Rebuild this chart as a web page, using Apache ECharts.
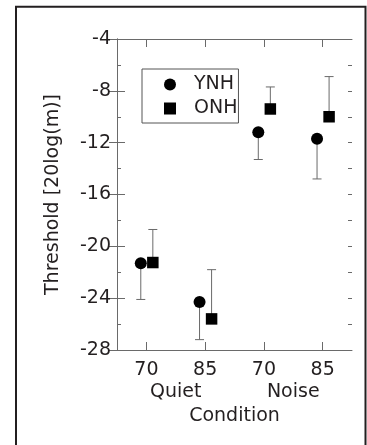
<!DOCTYPE html>
<html>
<head>
<meta charset="utf-8">
<script src="https://cdn.jsdelivr.net/npm/echarts@6/dist/echarts.min.js"></script>
<style>
html,body{margin:0;padding:0;background:#fff;}
#chart{width:367px;height:445px;}
</style>
</head>
<body>
<div id="chart"></div>
<script>
// ---- data ----
var categories = ['70', '85', '70', '85'];
var groups = ['Quiet', 'Noise'];
var seriesNames = ['YNH', 'ONH'];
var ynhMean = [-21.3, -24.3, -11.2, -11.7];
var ynhLower = [-24.1, -27.2, -13.3, -14.8];
var onhMean = [-21.25, -25.6, -9.4, -10.0];
var onhUpper = [-18.7, -21.8, -7.7, -6.9];
var yTicks = [-28, -24, -20, -16, -12, -8, -4];

// ---- styling constants ----
var FONT = 'DejaVu Sans';
var TXT = '#231f20';
var AX = '#6a6a6a';
var offYNH = -0.095, offONH = 0.11;
var catPos = categories.map(function (c, i) { return i + 0.5; });
var groupPos = groups.map(function (g, i) { return i * 2 + 1; });

function pts(vals, off) {
  return vals.map(function (v, i) { return [catPos[i] + off, v]; });
}
function bars(mean, end, off) {
  return mean.map(function (v, i) { return [catPos[i] + off, v, end[i]]; });
}

function errRender(params, api) {
  var x = api.value(0), m = api.value(1), e = api.value(2);
  var p0 = api.coord([x, m]);
  var p1 = api.coord([x, e]);
  var cw = 4.5;
  var st = { stroke: AX, lineWidth: 1 };
  return {
    type: 'group',
    children: [
      { type: 'line', shape: { x1: p0[0], y1: p0[1], x2: p1[0], y2: p1[1] }, style: st },
      { type: 'line', shape: { x1: p1[0] - cw, y1: p1[1], x2: p1[0] + cw, y2: p1[1] }, style: st }
    ]
  };
}

var axisLineStyle = { color: AX, width: 1 };
function minorY(pos) {
  return {
    type: 'value', min: -28, max: -4, interval: 2, position: pos,
    axisLine: { show: false },
    axisTick: { show: true, inside: true, length: 4, lineStyle: axisLineStyle },
    axisLabel: { show: false },
    splitLine: { show: false }
  };
}

var chart = echarts.init(document.getElementById('chart'));
chart.setOption({
  animation: false,
  backgroundColor: '#fff',
  textStyle: { fontFamily: FONT, color: TXT },
  graphic: [{
    type: 'rect',
    shape: { x: 16, y: 6.7, width: 349.5, height: 460 },
    style: { fill: 'none', stroke: TXT, lineWidth: 2 },
    silent: true
  }],
  grid: { left: 117, right: 15, top: 39, bottom: 95, containLabel: false },
  legend: {
    data: [
      { name: 'YNH', icon: 'circle' },
      { name: 'ONH', icon: 'path://M0,0L10,0L10,10L0,10Z' }
    ],
    orient: 'vertical',
    left: 142, top: 69,
    padding: [6, 1, 5, 22],
    itemWidth: 12, itemHeight: 12, itemGap: 5,
    borderColor: '#555', borderWidth: 1, borderRadius: 0,
    textStyle: { fontFamily: FONT, fontSize: 19, color: TXT, padding: [0, 0, 0, 13] },
    selectedMode: false
  },
  xAxis: [
    {
      type: 'value', min: 0, max: 4, position: 'bottom',
      axisLine: { show: true, lineStyle: axisLineStyle },
      axisTick: { show: true, inside: true, length: 8, lineStyle: axisLineStyle, customValues: catPos },
      axisLabel: {
        fontFamily: FONT, fontSize: 19, color: TXT, margin: 11,
        customValues: catPos,
        formatter: function (v) { return categories[Math.round(v - 0.5)]; }
      },
      splitLine: { show: false },
      name: 'Condition', nameLocation: 'middle', nameGap: 57,
      nameTextStyle: { fontFamily: FONT, fontSize: 19, color: TXT }
    },
    {
      type: 'value', min: 0, max: 4, position: 'bottom', offset: 22,
      axisLine: { show: false }, axisTick: { show: false },
      axisLabel: {
        fontFamily: FONT, fontSize: 19, color: TXT, margin: 11,
        customValues: groupPos,
        formatter: function (v) { return groups[Math.round((v - 1) / 2)]; }
      },
      splitLine: { show: false }
    },
    {
      type: 'value', min: 0, max: 4, position: 'top',
      axisLine: { show: true, lineStyle: axisLineStyle },
      axisTick: { show: true, inside: true, length: 8, lineStyle: axisLineStyle, customValues: catPos },
      axisLabel: { show: false },
      splitLine: { show: false }
    }
  ],
  yAxis: [
    {
      type: 'value', min: -28, max: -4, interval: 4, position: 'left',
      axisLine: { show: true, lineStyle: axisLineStyle },
      axisTick: { show: true, inside: true, length: 8, lineStyle: axisLineStyle },
      axisLabel: { fontFamily: FONT, fontSize: 19, color: TXT, margin: 6,
        customValues: yTicks },
      splitLine: { show: false },
      name: 'Threshold [20log(m)]', nameLocation: 'middle', nameGap: 54, nameRotate: 90,
      nameTextStyle: { fontFamily: FONT, fontSize: 19, color: TXT }
    },
    {
      type: 'value', min: -28, max: -4, interval: 4, position: 'right',
      axisLine: { show: true, lineStyle: axisLineStyle },
      axisTick: { show: true, inside: true, length: 8, lineStyle: axisLineStyle },
      axisLabel: { show: false },
      splitLine: { show: false }
    },
    minorY('left'),
    minorY('right')
  ],
  series: [
    {
      type: 'custom', name: 'YNH err', renderItem: errRender, z: 1,
      data: bars(ynhMean, ynhLower, offYNH), encode: { x: 0, y: [1, 2] }, silent: true
    },
    {
      type: 'custom', name: 'ONH err', renderItem: errRender, z: 1,
      data: bars(onhMean, onhUpper, offONH), encode: { x: 0, y: [1, 2] }, silent: true
    },
    {
      type: 'scatter', name: 'YNH', symbol: 'circle', symbolSize: 12, z: 3,
      itemStyle: { color: '#000', opacity: 1 },
      data: pts(ynhMean, offYNH)
    },
    {
      type: 'scatter', name: 'ONH', symbol: 'rect', symbolSize: 11.5, z: 3,
      itemStyle: { color: '#000', opacity: 1 },
      data: pts(onhMean, offONH)
    }
  ]
});
</script>
</body>
</html>
